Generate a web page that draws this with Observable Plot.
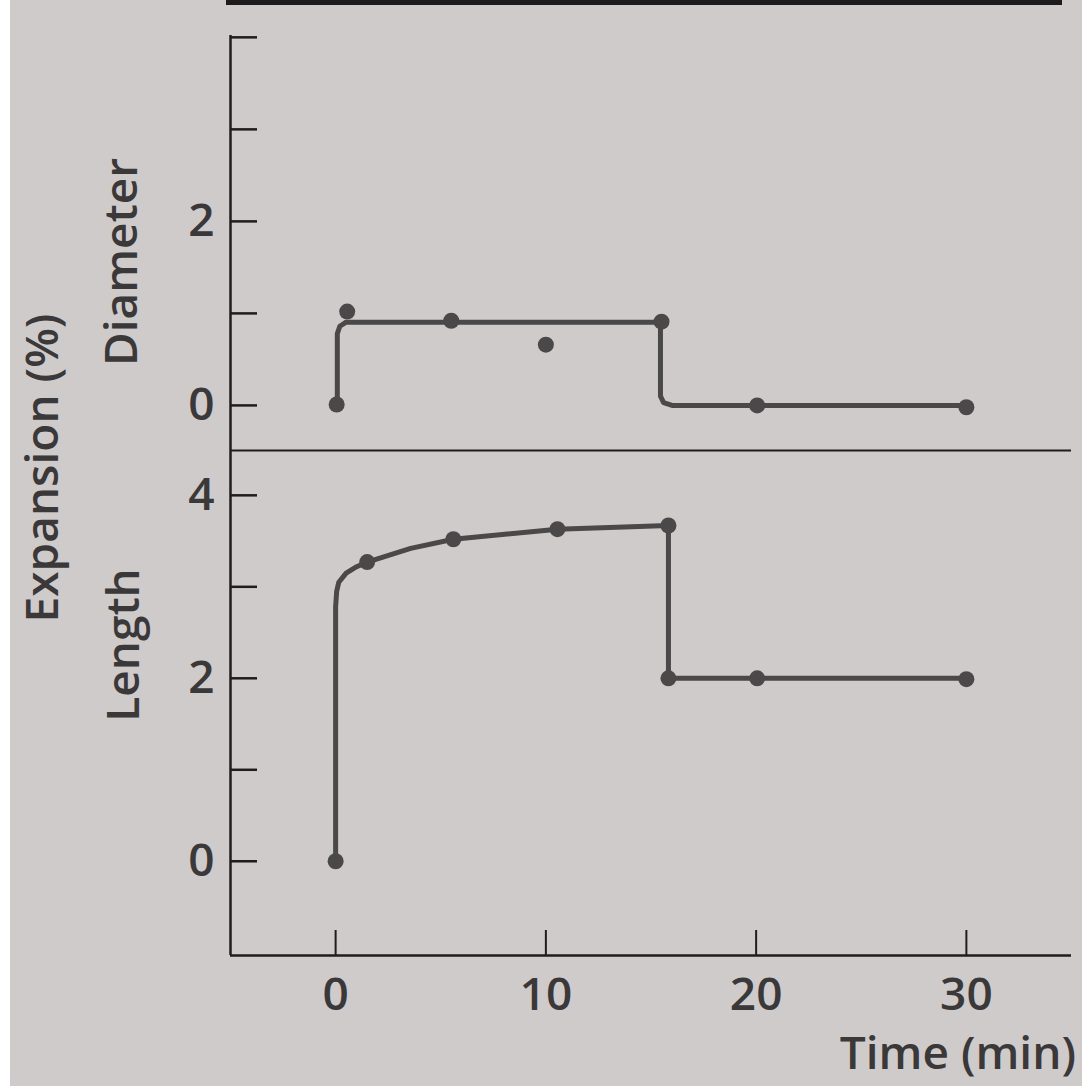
<!DOCTYPE html>
<html>
<head>
<meta charset="utf-8">
<script src="https://cdn.jsdelivr.net/npm/d3@7"></script>
<script src="https://cdn.jsdelivr.net/npm/@observablehq/plot@0.6"></script>
<style>
  html, body { margin: 0; padding: 0; background: #ffffff; }
  #page { position: relative; width: 1082px; height: 1086px; overflow: hidden; background: #ffffff; }
  #paper { position: absolute; left: 10px; top: 0; width: 1072px; height: 1086px; background: #cfcbcb; }
  #topbar { position: absolute; left: 226px; top: 0; width: 836px; height: 5px; background: #1d1b1c; }
  .lbl { position: absolute; font-family: "Open Sans", sans-serif; font-weight: 600; color: #3a3839;
         font-size: 46px; line-height: 46px; white-space: nowrap; }
  .rot { transform: translate(-50%, -50%) rotate(-90deg); }
  .panel { position: absolute; left: 0; }
</style>
</head>
<body>
<div id="page">
  <div id="paper"></div>
  <div id="topbar"></div>
  <div id="top" class="panel" style="top:0px"></div>
  <div id="bottom" class="panel" style="top:450px"></div>
  <div class="lbl rot" style="left:40px; top:468px">Expansion (%)</div>
  <div class="lbl rot" style="left:119px; top:262px">Diameter</div>
  <div class="lbl rot" style="left:121px; top:645px">Length</div>
  <div class="lbl" style="right:6px; top:1028px">Time (min)</div>
</div>
<script>
// ---- data ----
const timeTicks = [0, 10, 20, 30];

// Diameter panel
const diamTicks = [0, 1, 2, 3, 4];
const diamTickLabels = [0, 2];
const diamPointTime  = [0.05, 0.55, 5.5, 10.0, 15.5, 20.05, 30.0];
const diamPointValue = [0.01, 1.02, 0.92, 0.66, 0.91, 0.0, -0.02];
const diamLineTime   = [0.08, 0.08, 0.2, 0.5, 15.45, 15.45, 15.6, 16.0, 30.0];
const diamLineValue  = [0.0, 0.78, 0.86, 0.905, 0.905, 0.1, 0.03, 0.0, 0.0];

// Length panel
const lenTicks = [0, 1, 2, 3, 4];
const lenTickLabels = [0, 2, 4];
const lenPointTime  = [0.0, 1.5, 5.6, 10.55, 15.83, 15.83, 20.05, 30.0];
const lenPointValue = [0.0, 3.27, 3.52, 3.63, 3.67, 2.0, 2.0, 1.99];
const lenLineTime   = [0.0, 0.0, 0.05, 0.15, 0.5, 1.0, 1.5, 3.57, 5.6, 10.55, 15.83, 15.83, 30.0];
const lenLineValue  = [0.0, 2.78, 2.95, 3.05, 3.15, 3.22, 3.27, 3.42, 3.52, 3.63, 3.67, 2.0, 2.0];

// ---- build tables ----
const zip = (xs, ys) => xs.map((t, i) => ({t, v: ys[i]}));
const diamPoints = zip(diamPointTime, diamPointValue);
const diamLine = zip(diamLineTime, diamLineValue);
const lenPoints = zip(lenPointTime, lenPointValue);
const lenLine = zip(lenLineTime, lenLineValue);

const xDomain = [-5, 35];
const topDomain = [-0.49, 4.02];
const botDomain = [-1.03, 4.49];

const ink = "#4b4849";
const axisInk = "#1f1d1e";
const textInk = "#3a3839";
const font = "'Open Sans', sans-serif";
const fmt = d => String(d);
const style = {background: "transparent", overflow: "visible", fontFamily: font, fontSize: "46px", fontWeight: 600, color: textInk};

const topPlot = Plot.plot({
  width: 1082, height: 452,
  marginLeft: 230, marginRight: 11, marginTop: 35, marginBottom: 2,
  style,
  x: {domain: xDomain, axis: null},
  y: {domain: topDomain, axis: null},
  marks: [
    Plot.ruleX([xDomain[0]], {stroke: axisInk, strokeWidth: 2.5}),
    Plot.ruleY([topDomain[0]], {stroke: axisInk, strokeWidth: 2}),
    Plot.axisY({ticks: diamTicks, tickSize: -27, tickFormat: () => "", stroke: axisInk, strokeWidth: 2.5, label: null}),
    Plot.axisY({ticks: diamTickLabels, tickSize: 0, tickPadding: 16, tickFormat: fmt, fill: textInk, label: null}),
    Plot.line(diamLine, {x: "t", y: "v", stroke: ink, strokeWidth: 5, strokeLinejoin: "round", strokeLinecap: "round"}),
    Plot.dot(diamPoints, {x: "t", y: "v", r: 8, fill: ink, stroke: null})
  ]
});

const botPlot = Plot.plot({
  width: 1082, height: 636,
  marginLeft: 230, marginRight: 11, marginTop: 0, marginBottom: 131,
  style,
  x: {domain: xDomain, axis: null},
  y: {domain: botDomain, axis: null},
  marks: [
    Plot.ruleX([xDomain[0]], {stroke: axisInk, strokeWidth: 2.5}),
    Plot.ruleY([botDomain[0]], {stroke: axisInk, strokeWidth: 2.5}),
    Plot.axisY({ticks: lenTicks, tickSize: -27, tickFormat: () => "", stroke: axisInk, strokeWidth: 2.5, label: null}),
    Plot.axisY({ticks: lenTickLabels, tickSize: 0, tickPadding: 16, tickFormat: fmt, fill: textInk, label: null}),
    Plot.axisX({ticks: timeTicks, tickSize: -25, tickFormat: () => "", stroke: axisInk, strokeWidth: 2, label: null}),
    Plot.axisX({ticks: timeTicks, tickSize: 0, tickPadding: 22, tickFormat: fmt, fill: textInk, label: null}),
    Plot.line(lenLine, {x: "t", y: "v", stroke: ink, strokeWidth: 5, strokeLinejoin: "round", strokeLinecap: "round"}),
    Plot.dot(lenPoints, {x: "t", y: "v", r: 8, fill: ink, stroke: null})
  ]
});

document.getElementById("top").appendChild(topPlot);
document.getElementById("bottom").appendChild(botPlot);
</script>
</body>
</html>
